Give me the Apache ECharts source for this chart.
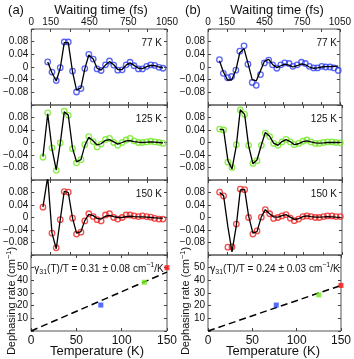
<!DOCTYPE html>
<html>
<head>
<meta charset="utf-8">
<script src="https://cdn.jsdelivr.net/npm/echarts@6/dist/echarts.min.js"></script>
<style>
  html, body { margin: 0; padding: 0; background: #fff; }
  #main { width: 354px; height: 359px; }
</style>
</head>
<body>
<div id="main"></div>
<script>
const FONT = '"Liberation Sans", Arial, sans-serif'

// waiting times (fs) of the measured points
const timesA77 = [127, 160, 193, 224, 255, 286, 319, 350, 384, 414, 445, 479, 509, 540, 574, 605, 638, 669, 703, 734, 764, 795, 829, 860, 893, 924, 955, 988, 1019]
const timesA = [90, 127, 160, 193, 224, 255, 286, 319, 350, 384, 414, 445, 479, 509, 540, 574, 605, 638, 669, 703, 734, 764, 795, 829, 860, 893, 924, 955, 988, 1019]
const timesB = [91, 122, 156, 188, 222, 253, 287, 318, 352, 384, 418, 449, 483, 514, 548, 580, 611, 645, 676, 710, 744, 775, 807, 841, 872, 906, 937, 971, 1003, 1037]

// (a) measured + fit
const dataA77 = [0.016, -0.016, -0.043, -0.002, 0.079, 0.079, -0.013, -0.079, -0.068, -0.005, 0.04, 0.025, -0.006, -0.011, 0.007, 0.019, 0.006, -0.01, -0.009, 0.007, 0.015, 0.004, -0.006, -0.006, 0.002, 0.007, 0.005, -0.001, -0.004]
const fitA77 = [0.016, -0.018, -0.044, -0.004, 0.077, 0.077, -0.015, -0.073, -0.066, -0.006, 0.038, 0.025, -0.004, -0.01, 0.006, 0.017, 0.007, -0.008, -0.008, 0.006, 0.013, 0.005, -0.004, -0.005, 0.001, 0.005, 0.004, 0, -0.003]
const dataA125 = [-0.047, 0.095, -0.017, -0.089, -0.001, 0.1, 0.087, -0.02, -0.065, -0.055, -0.007, 0.019, 0.003, -0.014, -0.005, 0.01, 0.013, 0, -0.009, 0, 0.008, 0.013, 0.005, 0, 0, 0.002, 0.004, 0.002, 0, -0.003]
const fitA125 = [-0.045, 0.092, -0.02, -0.088, -0.003, 0.098, 0.088, -0.018, -0.062, -0.055, -0.01, 0.017, 0.005, -0.008, -0.004, 0.007, 0.009, 0.002, -0.005, 0, 0.005, 0.006, 0.003, 0.001, 0, 0.001, 0.002, 0.001, 0, -0.001]
const dataA150 = [0.033, 0.13, -0.05, -0.097, -0.007, 0.083, 0.081, -0.002, -0.053, -0.047, -0.011, 0.012, 0.003, -0.007, -0.011, 0.008, 0.012, 0, -0.005, 0, 0.008, 0.008, 0.005, 0.003, 0.005, 0.003, 0.001, -0.003, -0.005, -0.005]
const fitA150 = [0.033, 0.13, -0.05, -0.1, -0.007, 0.084, 0.08, -0.002, -0.05, -0.045, -0.01, 0.01, 0.006, -0.003, -0.005, 0.004, 0.007, 0.003, 0, 0, 0.003, 0.004, 0.003, 0.002, 0.002, 0.001, 0, -0.001, -0.002, -0.002]

// (b) measured + fit
const dataB77 = [0.023, -0.02, -0.034, -0.03, -0.01, 0.05, 0.067, 0.009, -0.049, -0.058, -0.024, 0.013, 0.022, 0.007, -0.004, 0.007, 0.013, 0.011, 0.002, 0.007, 0.015, 0.011, 0.002, -0.003, -0.003, 0.002, 0, 0, -0.003, -0.011]
const fitB77 = [0.02, -0.015, -0.041, -0.041, -0.01, 0.045, 0.058, 0.012, -0.04, -0.044, -0.012, 0.018, 0.024, 0.008, -0.002, 0.004, 0.009, 0.006, 0, 0.004, 0.01, 0.007, 0, -0.004, -0.003, 0, 0.001, 0.001, 0.002, 0.003]
const dataB125 = [0.043, 0.04, -0.063, -0.08, -0.007, 0.104, 0.09, -0.009, -0.067, -0.058, -0.009, 0.03, 0.019, -0.003, -0.009, 0.002, 0.01, 0.002, -0.007, -0.003, 0.004, 0.008, 0.002, -0.003, -0.003, 0, 0.002, 0.002, 0, -0.001]
const fitB125 = [0.042, 0.041, -0.058, -0.085, -0.01, 0.105, 0.09, -0.01, -0.068, -0.056, -0.008, 0.032, 0.02, -0.002, -0.009, 0.003, 0.009, 0.003, -0.007, -0.004, 0.003, 0.005, 0.002, -0.001, -0.002, -0.001, 0, 0, 0, 0]
const dataB150 = [0.081, 0.069, -0.095, -0.094, -0.021, 0.091, 0.089, 0, -0.053, -0.043, 0.001, 0.025, 0.012, -0.003, 0, 0.005, 0.009, -0.002, -0.01, -0.005, 0.003, 0.005, 0.003, 0, 0, 0.003, 0.005, 0.005, 0.003, 0.003]
const fitB150 = [0.08, 0.07, -0.03, -0.11, -0.025, 0.088, 0.09, 0.005, -0.05, -0.045, 0.002, 0.025, 0.012, 0.002, 0.001, 0.006, 0.009, 0.001, -0.006, -0.004, 0.003, 0.005, 0.003, 0.001, 0.001, 0.002, 0.003, 0.002, 0.001, 0]

// dephasing rate vs temperature
const tempK = [77, 125, 150]
const rateA = [20.5, 38.5, 50]
const rateB = [20.5, 28.5, 36]
const rateSlope = [0.31, 0.24]
const rateErr = [0.08, 0.03]
const panelNames = ['77 K', '125 K', '150 K']
const colLetters = ['(a)', '(b)']
const hiddenTimeLabels = [300, 600, 900]

const circleColors = ['#2f3ff0', '#6fe81e', '#ee2020']
const squareColors = ['#2547ff', '#6fe81e', '#ff1010']

const panels = [
  [
    { t: timesA77, d: dataA77, f: fitA77 },
    { t: timesA, d: dataA125, f: fitA125 },
    { t: timesA, d: dataA150, f: fitA150 },
  ],
  [
    { t: timesB, d: dataB77, f: fitB77 },
    { t: timesB, d: dataB125, f: fitB125 },
    { t: timesB, d: dataB150, f: fitB150 },
  ],
]
const rates = [rateA, rateB]

const cols = [{ left: 31, width: 136 }, { left: 208, width: 134 }]
const rows = [
  { top: 29, height: 76 },
  { top: 105, height: 75 },
  { top: 180, height: 75 },
  { top: 255, height: 76 },
]

const grid = []
const xAxis = []
const yAxis = []
const series = []
const graphic = []

const tick = { show: true, inside: true, length: 3, lineStyle: { color: '#444', width: 1 } }
const noLine = { show: false, onZero: false }
const lbl = { fontFamily: FONT, fontSize: 10, color: '#111' }

function fmtY(v) {
  if (Math.abs(v) > 0.1) return ''
  if (Math.abs(v) < 1e-9) return '0'
  return (v < 0 ? '\u2212' : '') + Math.abs(v).toFixed(2)
}

cols.forEach((c, ci) => {
  rows.forEach((r, ri) => {
    const g = grid.length
    const isRate = ri === 3
    grid.push({
      left: c.left, top: r.top, width: c.width, height: r.height,
      show: true, borderColor: '#555', borderWidth: 1, backgroundColor: 'transparent',
    })
    const xRange = isRate ? { min: 0, max: 150, interval: 50 } : { min: 0, max: 1050, interval: 150 }
    const yRange = isRate ? { min: 0, max: 60, interval: 10 } : { min: -0.12, max: 0.12, interval: 0.04 }
    // bottom x
    xAxis.push({
      type: 'value', gridIndex: g, position: 'bottom', ...xRange,
      axisLine: noLine, splitLine: { show: false }, axisTick: tick,
      axisLabel: { show: isRate, margin: 4, showMinLabel: true, showMaxLabel: true, ...lbl, fontSize: 12 },
    })
    // top x
    xAxis.push({
      type: 'value', gridIndex: g, position: 'top', ...xRange,
      axisLine: noLine, splitLine: { show: false }, axisTick: tick,
      axisLabel: {
        show: ri === 0, margin: 2, showMinLabel: true, showMaxLabel: true, ...lbl,
        formatter: (v) => (hiddenTimeLabels.includes(v) ? '' : String(v)),
      },
    })
    // left y
    yAxis.push({
      type: 'value', gridIndex: g, position: 'left', ...yRange,
      axisLine: noLine, splitLine: { show: false }, axisTick: tick,
      axisLabel: {
        show: true, margin: 3, showMinLabel: true, showMaxLabel: true, ...lbl,
        formatter: isRate ? (v) => (v === 0 || v === 60 ? '' : String(v)) : fmtY,
      },
    })
    // right y
    yAxis.push({
      type: 'value', gridIndex: g, position: 'right', ...yRange,
      axisLine: noLine, splitLine: { show: false }, axisTick: tick,
      axisLabel: { show: false },
    })

    if (!isRate) {
      const p = panels[ci][ri]
      series.push({
        type: 'scatter', xAxisIndex: 2 * g, yAxisIndex: 2 * g, z: 2,
        symbol: 'circle', symbolSize: 5.5, clip: true,
        itemStyle: { color: 'rgba(0,0,0,0)', borderColor: circleColors[ri], borderWidth: 1.3 },
        data: p.t.map((t, i) => [t, p.d[i]]),
      })
      series.push({
        type: 'line', xAxisIndex: 2 * g, yAxisIndex: 2 * g, z: 3,
        showSymbol: false, clip: true,
        lineStyle: { color: '#000', width: 1.3 },
        data: p.t.map((t, i) => [t, p.f[i]]),
      })
      graphic.push({
        type: 'text', x: c.left + c.width - 5, y: r.top + 14,
        style: {
          text: panelNames[ri], fill: '#111', fontSize: 10, fontFamily: FONT,
          align: 'right', textAlign: 'right', verticalAlign: 'middle', textVerticalAlign: 'middle',
        },
      })
    } else {
      const slope = rateSlope[ci]
      series.push({
        type: 'line', xAxisIndex: 2 * g, yAxisIndex: 2 * g, z: 2,
        showSymbol: false, clip: true,
        lineStyle: { color: '#000', width: 1.5, type: [7, 4] },
        data: [[0, 0], [150, slope * 150]],
      })
      series.push({
        type: 'scatter', xAxisIndex: 2 * g, yAxisIndex: 2 * g, z: 3,
        symbol: 'rect', symbolSize: 5, clip: false,
        data: tempK.map((t, i) => ({ value: [t, rates[ci][i]], itemStyle: { color: squareColors[i] } })),
      })
      const cx = c.left + c.width / 2
      graphic.push({
        type: 'text', x: cx, y: r.top + 14,
        style: {
          text: '{t|\u03b3}{s|31}{t|(T)/T = ' + slope.toFixed(2) + ' \u00b1 ' + rateErr[ci].toFixed(2) + ' cm}{u|\u22121}{t|/K}',
          fontFamily: FONT, fill: '#111',
          align: 'center', textAlign: 'center', verticalAlign: 'middle', textVerticalAlign: 'middle',
          rich: {
            t: { fontSize: 10, fontFamily: FONT, lineHeight: 14, verticalAlign: 'middle', fill: '#111' },
            s: { fontSize: 7, fontFamily: FONT, lineHeight: 7, verticalAlign: 'bottom', fill: '#111' },
            u: { fontSize: 7, fontFamily: FONT, lineHeight: 7, verticalAlign: 'top', fill: '#111' },
          },
        },
      })
    }
  })
  const mid = c.left + c.width / 2
  graphic.push({
    type: 'text', x: ci === 0 ? 16 : 193, y: 10,
    style: { text: colLetters[ci], fill: '#111', fontSize: 13, fontFamily: FONT, align: 'center', textAlign: 'center', verticalAlign: 'middle', textVerticalAlign: 'middle' },
  })
  graphic.push({
    type: 'text', x: mid + 2, y: 10,
    style: { text: 'Waiting time (fs)', fill: '#111', fontSize: 13, fontFamily: FONT, align: 'center', textAlign: 'center', verticalAlign: 'middle', textVerticalAlign: 'middle' },
  })
  graphic.push({
    type: 'text', x: mid - 2, y: 351,
    style: { text: 'Temperature (K)', fill: '#111', fontSize: 13, fontFamily: FONT, align: 'center', textAlign: 'center', verticalAlign: 'middle', textVerticalAlign: 'middle' },
  })
  graphic.push({
    type: 'text', x: ci === 0 ? 12 : 186, y: 301, rotation: Math.PI / 2,
    style: {
      text: '{t|Dephasing rate (cm}{u|\u22121}{t|)}',
      fill: '#111', fontFamily: FONT,
      align: 'center', textAlign: 'center', verticalAlign: 'middle', textVerticalAlign: 'middle',
      rich: {
        t: { fontSize: 11, fontFamily: FONT, lineHeight: 15, verticalAlign: 'middle', fill: '#111' },
        u: { fontSize: 7.5, fontFamily: FONT, lineHeight: 8, verticalAlign: 'top', fill: '#111' },
      },
    },
  })
})

const chart = echarts.init(document.getElementById('main'), null, { renderer: 'canvas' })
chart.setOption({
  animation: false,
  backgroundColor: '#fff',
  grid, xAxis, yAxis, series, graphic,
})
</script>
</body>
</html>
